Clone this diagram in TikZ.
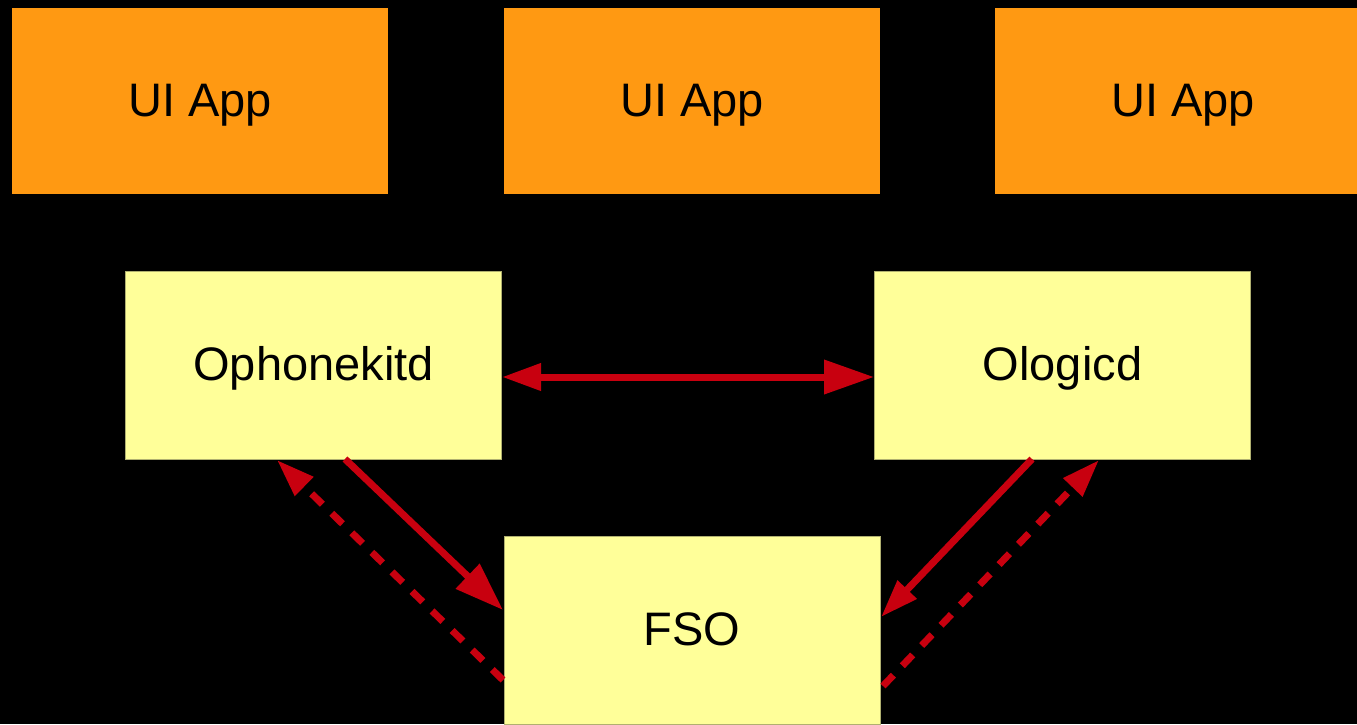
\documentclass[tikz,border=0pt]{standalone}
\usepackage{fontspec}
\setmainfont{Liberation Sans}
\usetikzlibrary{arrows.meta}
\definecolor{appor}{HTML}{FF9912}
\definecolor{dyel}{HTML}{FFFF99}
\definecolor{dyelb}{HTML}{B0B070}
\definecolor{arred}{HTML}{C8000F}
\tikzset{
  appbox/.style={fill=appor, draw=none, minimum width=376pt, minimum height=186pt, inner sep=0pt, text height=30pt, text depth=0pt, font=\fontsize{47}{56}\selectfont},
  dbox/.style={fill=dyel, draw=dyelb, line width=1pt, minimum width=376pt, minimum height=188pt, inner sep=0pt, text height=31pt, text depth=0pt, font=\fontsize{47}{56}\selectfont},
  conn/.style={draw=arred, line width=7pt},
  bigtip/.style={-{Triangle[length=49pt,width=33pt]}},
  smalltip/.style={-{Triangle[length=38pt,width=25pt]}},
  dashconn/.style={conn, dash pattern=on 15pt off 13pt},
}
\begin{document}
\begin{tikzpicture}[x=1pt,y=-1pt]
\useasboundingbox (0,0) rectangle (1357,724);
\fill[black] (0,0) rectangle (1357,724);
\clip (0,0) rectangle (1357,724);
\node[appbox] (app1) at (200,101) {UI App};
\node[appbox] (app2) at (692,101) {UI App};
\node[appbox] (app3) at (1183,101) {UI App};
\node[dbox] (oph) at (313.5,365) {Ophonekitd};
\node[dbox] (olo) at (1062.5,365) {Ologicd};
\node[dbox] (fso) at (692,630) {FSO};
% horizontal double arrow
\draw[conn, {Triangle[length=39pt,width=26pt]}-{Triangle[length=50pt,width=33pt]}]
  (oph.east |- 0,377) -- (olo.west |- 0,377);
% Ophonekitd -> FSO solid
\coordinate (a1s) at (345,459);
\coordinate (a1e) at (503,610);
\draw[conn, bigtip] (a1s) -- (a1e);
% FSO -> Ophonekitd dashed
\coordinate (a2s) at (503,680);
\coordinate (a2e) at (277,460);
\draw[dashconn, smalltip] (a2s) -- (a2e);
% Ologicd -> FSO solid
\coordinate (a3s) at (1032,459);
\coordinate (a3e) at (881,617);
\draw[conn, smalltip] (a3s) -- (a3e);
% FSO -> Ologicd dashed
\coordinate (a4s) at (883,686);
\coordinate (a4e) at (1099,460);
\draw[dashconn, smalltip] (a4s) -- (a4e);
\end{tikzpicture}
\end{document}
